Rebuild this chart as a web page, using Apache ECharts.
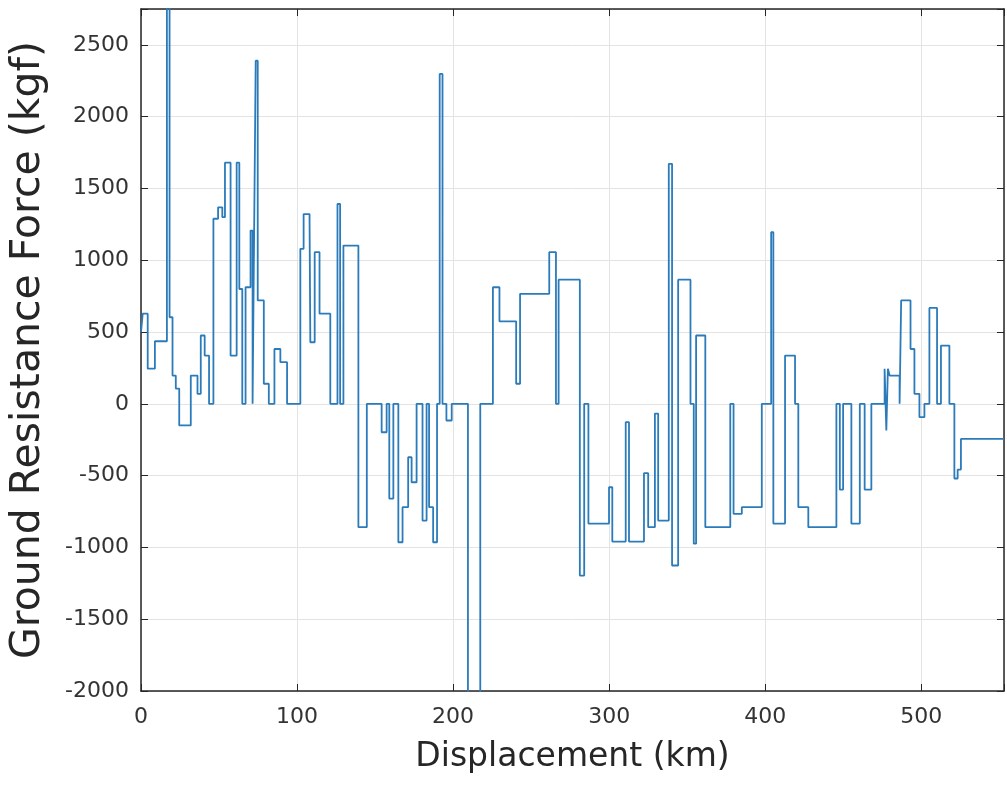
<!DOCTYPE html>
<html>
<head>
<meta charset="utf-8">
<script src="https://cdn.jsdelivr.net/npm/echarts@6/dist/echarts.min.js"></script>
<style>
    html, body { margin: 0; padding: 0; background: #fff; }
    #chart { width: 1007px; height: 787px; }
</style>
</head>
<body>
<div id="chart"></div>
<script>
    // step profile: force holds from each distance until the next one
    var distKm = [0, 1.1, 4.3, 8.9, 16.6, 18.3, 20.2, 22.3, 24.5, 31.9,
        36.2, 38.3, 40.8, 43.6, 46.4, 49.4, 52.1, 53.8, 57.4, 61.3,
        63.0, 64.9, 67.0, 70.2, 71.5, 72.5, 73.5, 74.8, 78.7, 81.9,
        85.5, 89.3, 93.6, 102.1, 104.2, 108.0, 108.5, 111.3, 114.4, 121.3,
        125.9, 127.6, 129.7, 139.3, 144.7, 154.2, 157.4, 159.1, 161.7, 164.9,
        167.6, 171.2, 173.4, 176.6, 180.4, 183.0, 184.6, 187.2, 189.7, 191.4,
        193.2, 195.7, 199.1, 209.5, 217.4, 225.5, 229.7, 240.4, 242.9, 261.6,
        265.9, 267.6, 281.2, 284.0, 286.7, 299.9, 302.0, 310.6, 312.7, 322.3,
        325.0, 329.3, 331.4, 338.2, 340.3, 344.2, 352.1, 354.2, 355.7, 361.6,
        377.6, 379.7, 385.0, 397.8, 403.8, 405.2, 412.7, 419.1, 421.2, 427.6,
        445.6, 447.8, 449.9, 455.2, 460.6, 463.7, 468.0, 476.5, 477.6, 478.6,
        479.7, 486.1, 487.1, 493.1, 495.6, 498.8, 502.0, 505.2, 510.1, 512.6,
        518.0, 521.2, 523.3, 525.4, 553];
    var forceKgf = [500, 628, 245, 436, 2900, 603, 197, 106, -150, 197,
        70, 476, 336, 0, 1289, 1369, 1300, 1680, 336, 1680,
        800, 0, 812, 1207, 0, 1207, 2390, 720, 140, 0,
        382, 290, 0, 1080, 1322, 1289, 429, 1056, 628, 0,
        1392, 0, 1102, -859, 0, -198, 0, -660, 0, -964,
        -720, -372, -546, 0, -813, 0, -720, -964, 0, 2298,
        0, -116, 0, -2050, 0, 812, 575, 140, 766, 1056,
        0, 865, -1196, 0, -834, -581, -959, -128, -959, -483,
        -859, -68, -813, 1672, -1126, 865, 0, -974, 476, -859,
        0, -766, -720, 0, 1195, -834, 336, 0, -720, -859,
        0, -597, 0, -834, 0, -597, 0, 245, -186, 245,
        197, 0, 720, 382, 70, -93, 0, 668, 0, 406,
        0, -520, -458, -244, -244];

    var xTicks = [0, 100, 200, 300, 400, 500];
    var yTicks = [-2000, -1500, -1000, -500, 0, 500, 1000, 1500, 2000, 2500];

    var points = [];
    for (var i = 0; i < distKm.length; i++) {
        points.push([distKm[i], forceKgf[i]]);
    }

    var axisColor = '#262626';
    var font = 'DejaVu Sans';

    var chart = echarts.init(document.getElementById('chart'));
    var option = {
        animation: false,
        backgroundColor: '#fff',
        grid: { left: 140, right: 1, top: 9, bottom: 96 },
        xAxis: [{
            type: 'value',
            min: 0,
            max: 553,
            interval: 100,
            name: 'Displacement (km)',
            nameLocation: 'middle',
            nameGap: 50,
            nameTextStyle: { fontFamily: font, fontSize: 33, color: axisColor },
            axisLine: { onZero: false, lineStyle: { color: axisColor, width: 1.5 } },
            axisTick: { inside: true, length: 7, lineStyle: { color: axisColor } },
            axisLabel: {
                fontFamily: font, fontSize: 22, color: '#333', margin: 15,
                formatter: function (v) { return xTicks.indexOf(v) >= 0 ? v : ''; }
            },
            splitLine: { show: true, lineStyle: { color: '#e3e3e3', width: 1 } }
        }, {
            type: 'value',
            position: 'top',
            min: 0,
            max: 553,
            interval: 100,
            axisLine: { onZero: false, lineStyle: { color: axisColor, width: 1.5 } },
            axisTick: { inside: true, length: 7, lineStyle: { color: axisColor } },
            axisLabel: { show: false },
            splitLine: { show: false }
        }],
        yAxis: [{
            type: 'value',
            min: -2000,
            max: 2750,
            interval: 500,
            name: 'Ground Resistance Force (kgf)',
            nameLocation: 'middle',
            nameGap: 92,
            nameTextStyle: { fontFamily: font, fontSize: 41, color: axisColor },
            axisLine: { show: true, onZero: false, lineStyle: { color: axisColor, width: 1.5 } },
            axisTick: { show: true, inside: true, length: 7, lineStyle: { color: axisColor } },
            axisLabel: {
                fontFamily: font, fontSize: 22, color: '#333', margin: 12,
                formatter: function (v) { return yTicks.indexOf(v) >= 0 ? v : ''; }
            },
            splitLine: { show: true, lineStyle: { color: '#e3e3e3', width: 1 } }
        }, {
            type: 'value',
            position: 'right',
            min: -2000,
            max: 2750,
            interval: 500,
            axisLine: { show: true, onZero: false, lineStyle: { color: axisColor, width: 1.5 } },
            axisTick: { show: true, inside: true, length: 7, lineStyle: { color: axisColor } },
            axisLabel: { show: false },
            splitLine: { show: false }
        }],
        series: [{
            type: 'line',
            step: 'end',
            symbol: 'none',
            clip: true,
            lineStyle: { color: '#2b7bba', width: 1.8 },
            data: points
        }]
    };
    chart.setOption(option);
</script>
</body>
</html>
